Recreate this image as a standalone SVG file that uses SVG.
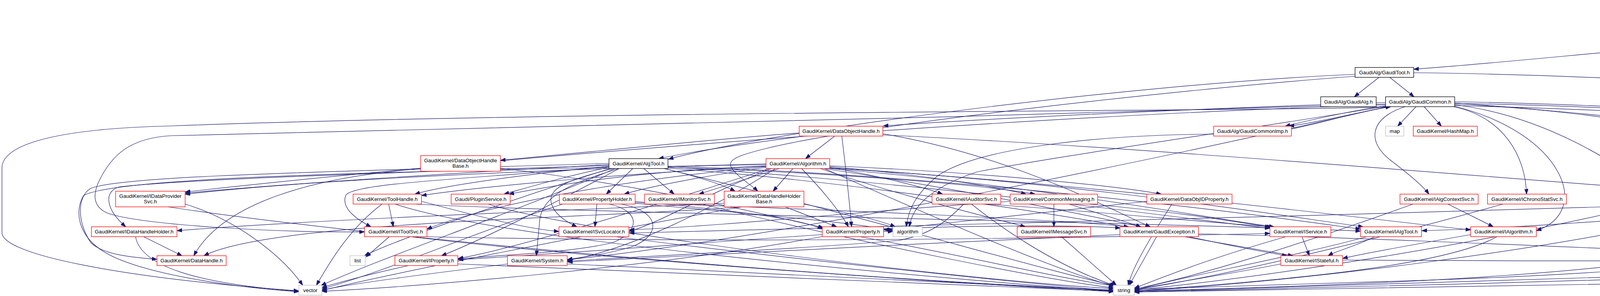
<svg xmlns="http://www.w3.org/2000/svg" width="5258" height="757" viewBox="0 0 5258 757">
<style>
rect{fill:#ffffff;stroke-width:1.3}
.r{stroke:#ff0000}.b{stroke:#000000}.g{stroke:#bfbfbf}
.top{fill:#bfbfbf;stroke:#000000}
text{font-family:"Liberation Sans",Arial,sans-serif;font-size:13.33px;text-anchor:middle;fill:#000000}
#edges path{fill:none;stroke:#191970;stroke-width:1.2;marker-end:url(#arr)}
</style>
<defs>
<marker id="arr" markerUnits="userSpaceOnUse" markerWidth="14" markerHeight="10" refX="13" refY="4.7" orient="auto"><path d="M0,0 L13,4.7 L0,9.4 Z" fill="#191970" stroke="#191970" stroke-width="1"/></marker>
</defs>
<rect x="0" y="0" width="5258" height="757" style="fill:#ffffff;stroke:none"/>
<g id="edges">
<path d="M4384,47 L4384,97.5"/>
<path d="M4340,114 C4150,128 3800,165 3619,177"/>
<path d="M4427,110 C4750,110 5133,130 5133,260 L5133,345 C5133,445 5010,480 4921,497"/>
<path d="M3530,198 L3467,247.5"/>
<path d="M3558,198 L3620,247.5"/>
<path d="M3619,186 C4000,190 4700,222 4950,258 C5060,276 5082,305 5082,345 L5082,580"/>
<path d="M3469,190 C2900,215 2000,330 1711,407"/>
<path d="M3469,195 C3000,230 2200,320 1960,380 C1900,395 1870,405 1870,420 C1870,440 1920,470 1940,489"/>
<path d="M3625,273 L3578,322.7"/>
<path d="M3646,273 L3690,322.7"/>
<path d="M3550,270 C3450,285 3350,308 3290,322.7"/>
<path d="M3552,273 C3460,292 3370,313 3300,322.7"/>
<path d="M3306,330 C3400,310 3480,285 3560,273"/>
<path d="M3547,262 C3000,280 2500,305 2261,322"/>
<path d="M3597,273 C3510,300 3495,360 3560,410 C3610,448 3645,478 3658,496.5"/>
<path d="M3722,273 C3850,300 3905,400 3908,496.5"/>
<path d="M3724,268 C3950,295 4150,420 4224,489"/>
<path d="M3724,266 C4100,285 4400,340 4508,398"/>
<path d="M3724,263 C4000,282 4300,318 4515,333"/>
<path d="M3724,260 C4300,272 4830,300 4940,405.7"/>
<path d="M3724,264 C4250,275 4740,300 4810,390 C4850,440 4950,470 4948,540 C4946,600 4930,630 4924,654"/>
<path d="M3724,270 C4300,285 4737,310 4737,400 L4737,595 C4737,645 4350,690 3700,715 C3300,730 3000,738 2904,740"/>
<path d="M3560,273 C3300,285 1500,282 440,322 C100,330 5,380 5,430 L5,595 C5,650 300,710 765,744"/>
<path d="M3547,266 C2500,300 1000,335 440,347 C330,352 285,400 255,460 C235,500 240,530 275,545 C360,575 700,595 933,593"/>
<path d="M3550,273 C3000,400 2000,610 1452,664"/>
<path d="M3724,272 C4000,340 4080,540 3933,590"/>
<path d="M3547,268 C2500,300 1200,410 474,491"/>
<path d="M3547,272 C3200,330 2700,400 2500,440 C2380,480 2335,530 2328,580"/>
<path d="M3107,343 C2800,345 2500,380 2400,450 C2340,500 2325,540 2320,580"/>
<path d="M2060,348 C1900,368 1760,390 1686,405.7"/>
<path d="M2137,348 L2062,405.7"/>
<path d="M2155,348 C2165,430 2175,520 2180,580"/>
<path d="M2046,340 C1800,358 1500,390 1281,410"/>
<path d="M2260,342 C2600,400 2850,540 2945,580"/>
<path d="M2260,345 C3000,380 4000,470 4413,497"/>
<path d="M1620,431 L1552,496.5"/>
<path d="M1648,431 L1726,496.5"/>
<path d="M1559,425 C1400,440 1150,470 1062,496.5"/>
<path d="M1559,421 C1200,440 700,472 474,494"/>
<path d="M1559,426 C1200,458 900,468 885,500 C872,535 920,565 950,580"/>
<path d="M1570,431 C1450,460 1400,482 1412,522 C1422,552 1455,570 1477,580"/>
<path d="M1585,431 C1450,470 1390,505 1382,560 L1373,654"/>
<path d="M1559,428 C1450,450 1350,480 1290,496.5"/>
<path d="M1585,431 C1420,520 1220,620 1130,654"/>
<path d="M1700,431 C1780,450 1850,472 1882,489"/>
<path d="M1710,428 C2100,440 2500,470 2650,496.5"/>
<path d="M1710,425 C2500,450 3300,560 3483,586"/>
<path d="M1710,430 C2400,480 3100,620 3310,654"/>
<path d="M1710,427 C2400,468 3100,568 3251,584"/>
<path d="M1559,423 C1000,442 480,458 305,478 C265,490 270,535 322,580"/>
<path d="M1559,418 C900,438 310,448 232,482 C198,502 196,565 232,620 C262,650 330,658 402,663"/>
<path d="M1575,431 C1300,550 1000,650 822,730"/>
<path d="M1700,431 C2200,550 2700,700 2855,730"/>
<path d="M1562,431 C1250,530 1000,620 933,654"/>
<path d="M2030,431 L1979,489"/>
<path d="M2052,431 C2100,480 2150,540 2172,580"/>
<path d="M1995,431 L1789,496.5"/>
<path d="M2124,428 C2250,450 2370,480 2413,496.5"/>
<path d="M2124,426 C2350,445 2550,478 2627,496.5"/>
<path d="M2124,424 C2500,440 2850,474 2973,496.5"/>
<path d="M1961,425 C1500,450 1200,482 1079,500"/>
<path d="M1961,428 C1800,450 1650,480 1598,496.5"/>
<path d="M1961,424 C1600,440 1400,478 1303,496.5"/>
<path d="M1961,419 C1200,438 700,470 474,497"/>
<path d="M1961,426 C1500,470 1200,540 1093,586"/>
<path d="M1975,431 C1800,500 1700,565 1611,592"/>
<path d="M1985,431 C1800,550 1600,640 1453,666"/>
<path d="M1970,431 C1600,550 1300,640 1173,661"/>
<path d="M2124,430 C2800,470 3500,560 3765,588"/>
<path d="M2124,431 C2700,480 3100,560 3262,580"/>
<path d="M2110,431 C2700,520 3100,625 3295,654"/>
<path d="M2100,431 C2300,500 2550,560 2625,580"/>
<path d="M2110,431 C2400,560 2700,690 2852,732"/>
<path d="M1961,421 C1000,438 300,452 214,500 C190,540 200,600 260,640 C350,700 600,735 765,746"/>
<path d="M2124,429 C2800,470 3300,555 3490,580"/>
<path d="M1077,432 C800,452 570,520 496,654"/>
<path d="M1281,430 C1700,480 2000,560 2108,582"/>
<path d="M2010,529 L2142,580"/>
<path d="M1854,520 C1400,540 800,562 453,590"/>
<path d="M1900,529 C1500,560 700,565 522,654"/>
<path d="M1900,529 C1500,600 1000,700 824,743"/>
<path d="M2058,522 C2150,540 2250,562 2292,580"/>
<path d="M367,605 L466,654"/>
<path d="M347,605 C360,680 500,725 765,745"/>
<path d="M430,529 C900,600 2000,705 2851,742"/>
<path d="M474,522 C600,560 720,650 775,729.5"/>
<path d="M995,522 L1007,580"/>
<path d="M978,522 C900,580 850,660 810,729.5"/>
<path d="M1012,522 C1300,620 2500,720 2852,745"/>
<path d="M1065,522 C1500,545 3000,570 3483,591"/>
<path d="M1079,515 C1250,560 1350,585 1431,592"/>
<path d="M1250,522 C1500,600 2500,720 2851,738"/>
<path d="M1528,522 L1523,580"/>
<path d="M1626,515 C1900,540 2050,560 2106,586"/>
<path d="M1626,518 C2200,540 2700,560 2890,580"/>
<path d="M1626,520 C1900,545 2150,565 2286,589"/>
<path d="M1440,522 C1200,600 1000,690 824,739"/>
<path d="M1560,522 C1640,540 1640,590 1570,620 C1450,650 1250,652 1172,663"/>
<path d="M1590,522 C1690,540 1695,600 1620,630 C1560,650 1480,658 1452,665"/>
<path d="M1797,522 C2200,620 2700,720 2851,736"/>
<path d="M2487,522 C2560,580 2700,680 2856,731"/>
<path d="M2467,522 C2420,570 2380,600 2300,615 C2000,640 1700,652 1453,668"/>
<path d="M2525,522 C2800,540 3100,570 3256,580"/>
<path d="M2698,522 L2698,580"/>
<path d="M2737,522 L2921,580"/>
<path d="M2788,522 C3000,540 3150,565 3251,581"/>
<path d="M2586,515 C2200,540 1900,575 1611,588"/>
<path d="M2936,515 C2700,540 2400,575 2262,588"/>
<path d="M3000,522 C2950,600 2900,680 2888,729.5"/>
<path d="M1573,605 C2000,660 2600,722 2851,744"/>
<path d="M997,605 L937,657"/>
<path d="M1048,605 C1500,660 2400,722 2851,746"/>
<path d="M1072,605 C2000,625 2900,605 3251,597"/>
<path d="M2105,600 C1800,620 1400,652 1173,664"/>
<path d="M2200,605 C2500,660 2750,720 2855,731"/>
<path d="M2262,592 L2286,592"/>
<path d="M2262,585 C2500,577 2750,575 2868,583"/>
<path d="M2105,605 C1700,680 1100,732 824,745"/>
<path d="M2717,605 L2858,729.5"/>
<path d="M2961,605 L2891,729.5"/>
<path d="M3068,598 C3600,610 4400,650 4824,665"/>
<path d="M2867,600 C2400,620 1800,652 1453,670"/>
<path d="M3333,605 L3352,654"/>
<path d="M3293,605 C3100,660 3000,700 2904,737"/>
<path d="M3520,605 C3470,630 3420,642 3400,654"/>
<path d="M3500,605 C3300,660 3000,712 2904,743"/>
<path d="M3765,600 C3650,620 3500,646 3437,661"/>
<path d="M3833,605 C3700,680 3300,716 2904,744"/>
<path d="M3707,522 L3823,580"/>
<path d="M3617,522 C3400,600 3100,700 2904,739"/>
<path d="M3847,522 C3500,620 3100,712 2904,741"/>
<path d="M4193,529 C3800,620 3300,702 2904,742"/>
<path d="M4555,529 L4873,654"/>
<path d="M4413,520 C3500,550 2200,580 1611,596"/>
<path d="M4440,529 C4000,640 3300,722 2904,745"/>
<path d="M4852,522 L4905,654"/>
<path d="M4773,515 C4400,540 4000,580 3640,590"/>
<path d="M4840,522 C4800,620 4700,680 4400,700 C3800,720 3200,736 2904,746"/>
<path d="M4560,438 C4650,480 4650,540 4550,600 C4300,700 3500,730 2904,744"/>
<path d="M4608,348 C4680,400 4685,450 4685,500 L4685,650 C4685,700 4500,715 4200,725 C3500,740 3100,745 2904,747"/>
<path d="M4960,431 L5075,580"/>
<path d="M5055,605 L4946,654"/>
<path d="M5093,605 L5142,654"/>
<path d="M5165,605 C5230,620 5255,650 5253,680 C5250,715 5180,730 5127,738"/>
<path d="M5077,605 C5050,650 5020,680 4950,690 C4500,705 3500,735 2904,747"/>
<path d="M4942,679.5 L5064,729.5"/>
<path d="M3279,675 C3100,710 2950,730 2904,742"/>
<path d="M1045,679.5 C950,700 870,722 824,735"/>
<path d="M1172,675 C1800,700 2500,735 2851,745"/>
<path d="M1452,675 C2000,700 2600,735 2851,743"/>
<path d="M1300,675 C1100,700 900,725 824,742"/>
<path d="M3437,665 C3900,668 4400,668 4824,667"/>
</g>
<g id="n_cpp"><rect class="top" x="4298" y="6" width="172" height="41"/><text x="4384" y="22.5">GaudiAlg/src/components</text><text x="4384" y="37">/ErrorTool.cpp</text></g>
<g id="n_errortool_h"><rect class="b" x="4340" y="97.5" width="87" height="25.3"/><text x="4383.5" y="114.5">ErrorTool.h</text></g>
<g id="n_gauditool"><rect class="b" x="3469" y="172.5" width="150" height="25.3"/><text x="3544" y="189.5">GaudiAlg/GaudiTool.h</text></g>
<g id="n_gaudialg"><rect class="b" x="3381" y="247.5" width="142" height="25.3"/><text x="3452" y="264.5">GaudiAlg/GaudiAlg.h</text></g>
<g id="n_gaudicommon"><rect class="b" x="3547" y="247.5" width="177" height="25.3"/><text x="3635.5" y="264.5">GaudiAlg/GaudiCommon.h</text></g>
<g id="n_dataobjecthandle"><rect class="r" x="2046" y="322.7" width="214" height="25.3"/><text x="2153" y="339.7">GaudiKernel/DataObjectHandle.h</text></g>
<g id="n_gaudicommonimp"><rect class="r" x="3107" y="322.7" width="199" height="25.3"/><text x="3206.5" y="339.7">GaudiAlg/GaudiCommonImp.h</text></g>
<g id="n_map"><rect class="g" x="3547" y="322.7" width="47" height="25.3"/><text x="3570.5" y="339.7">map</text></g>
<g id="n_hashmap"><rect class="r" x="3618" y="322.7" width="164" height="25.3"/><text x="3700" y="339.7">GaudiKernel/HashMap.h</text></g>
<g id="n_statentity"><rect class="r" x="4515" y="322.7" width="167" height="25.3"/><text x="4598.5" y="339.7">GaudiKernel/StatEntity.h</text></g>
<g id="n_dataobjecthandlebase"><rect class="r" x="1077" y="398" width="204" height="40"/><text x="1179" y="414.5">GaudiKernel/DataObjectHandle</text><text x="1179" y="429">Base.h</text></g>
<g id="n_algtool"><rect class="b" x="1559" y="405.7" width="151" height="25.3"/><text x="1634.5" y="422.7">GaudiKernel/AlgTool.h</text></g>
<g id="n_algorithm_h"><rect class="r" x="1961" y="405.7" width="163" height="25.3"/><text x="2042.5" y="422.7">GaudiKernel/Algorithm.h</text></g>
<g id="n_iupdatemanagersvc"><rect class="r" x="4434" y="398" width="193" height="40"/><text x="4530.5" y="414.5">GaudiKernel/IUpdateManager</text><text x="4530.5" y="429">Svc.h</text></g>
<g id="n_smartdataptr"><rect class="r" x="4856" y="405.7" width="189" height="25.3"/><text x="4950.5" y="422.7">GaudiKernel/SmartDataPtr.h</text></g>
<g id="n_idataprovidersvc"><rect class="r" x="296" y="489" width="178" height="40"/><text x="385" y="505.5">GaudiKernel/IDataProvider</text><text x="385" y="520">Svc.h</text></g>
<g id="n_toolhandle"><rect class="r" x="904" y="496.5" width="175" height="25.3"/><text x="991.5" y="513.5">GaudiKernel/ToolHandle.h</text></g>
<g id="n_pluginservice"><rect class="r" x="1155" y="496.5" width="151" height="25.3"/><text x="1230.5" y="513.5">Gaudi/PluginService.h</text></g>
<g id="n_propertyholder"><rect class="r" x="1432" y="496.5" width="194" height="25.3"/><text x="1529" y="513.5">GaudiKernel/PropertyHolder.h</text></g>
<g id="n_imonitorsvc"><rect class="r" x="1650" y="496.5" width="179" height="25.3"/><text x="1739.5" y="513.5">GaudiKernel/IMonitorSvc.h</text></g>
<g id="n_datahandleholderbase"><rect class="r" x="1854" y="489" width="204" height="40"/><text x="1956" y="505.5">GaudiKernel/DataHandleHolder</text><text x="1956" y="520">Base.h</text></g>
<g id="n_iauditorsvc"><rect class="r" x="2386" y="496.5" width="176" height="25.3"/><text x="2474" y="513.5">GaudiKernel/IAuditorSvc.h</text></g>
<g id="n_commonmessaging"><rect class="r" x="2586" y="496.5" width="224" height="25.3"/><text x="2698" y="513.5">GaudiKernel/CommonMessaging.h</text></g>
<g id="n_dataobjidproperty"><rect class="r" x="2936" y="496.5" width="218" height="25.3"/><text x="3045" y="513.5">GaudiKernel/DataObjIDProperty.h</text></g>
<g id="n_ialgcontextsvc"><rect class="r" x="3584" y="496.5" width="200" height="25.3"/><text x="3684" y="513.5">GaudiKernel/IAlgContextSvc.h</text></g>
<g id="n_ichronostatsvc"><rect class="r" x="3808" y="496.5" width="202" height="25.3"/><text x="3909" y="513.5">GaudiKernel/IChronoStatSvc.h</text></g>
<g id="n_icountersummarysvc"><rect class="b" x="4136" y="489" width="203" height="40"/><text x="4237.5" y="505.5">GaudiKernel/ICounterSummary</text><text x="4237.5" y="520">Svc.h</text></g>
<g id="n_servicelocatorhelper"><rect class="r" x="4413" y="489" width="184" height="40"/><text x="4505" y="505.5">GaudiKernel/ServiceLocator</text><text x="4505" y="520">Helper.h</text></g>
<g id="n_ierrortool"><rect class="b" x="4773" y="496.5" width="147" height="25.3"/><text x="4846.5" y="513.5">GaudiAlg/IErrorTool.h</text></g>
<g id="n_idatahandleholder"><rect class="r" x="234" y="580" width="219" height="25.3"/><text x="343.5" y="597">GaudiKernel/IDataHandleHolder.h</text></g>
<g id="n_itoolsvc"><rect class="r" x="933" y="580" width="160" height="25.3"/><text x="1013" y="597">GaudiKernel/IToolSvc.h</text></g>
<g id="n_isvclocator"><rect class="r" x="1431" y="580" width="179" height="25.3"/><text x="1520.5" y="597">GaudiKernel/ISvcLocator.h</text></g>
<g id="n_property"><rect class="r" x="2105" y="580" width="157" height="25.3"/><text x="2183.5" y="597">GaudiKernel/Property.h</text></g>
<g id="n_algorithm_std"><rect class="g" x="2286" y="580" width="75" height="25.3"/><text x="2323.5" y="597">algorithm</text></g>
<g id="n_imessagesvc"><rect class="r" x="2604" y="580" width="188" height="25.3"/><text x="2698" y="597">GaudiKernel/IMessageSvc.h</text></g>
<g id="n_gaudiexception"><rect class="r" x="2867" y="580" width="201" height="25.3"/><text x="2967.5" y="597">GaudiKernel/GaudiException.h</text></g>
<g id="n_iservice"><rect class="r" x="3251" y="580" width="156" height="25.3"/><text x="3329" y="597">GaudiKernel/IService.h</text></g>
<g id="n_ialgtool"><rect class="r" x="3483" y="580" width="156" height="25.3"/><text x="3561" y="597">GaudiKernel/IAlgTool.h</text></g>
<g id="n_ialgorithm"><rect class="r" x="3765" y="580" width="168" height="25.3"/><text x="3849" y="597">GaudiKernel/IAlgorithm.h</text></g>
<g id="n_dataobject"><rect class="b" x="4995" y="580" width="175" height="25.3"/><text x="5082.5" y="597">GaudiKernel/DataObject.h</text></g>
<g id="n_datahandle"><rect class="r" x="402" y="654" width="177" height="25.3"/><text x="490.5" y="671">GaudiKernel/DataHandle.h</text></g>
<g id="n_list"><rect class="g" x="896" y="654" width="39" height="25.3"/><text x="915.5" y="671">list</text></g>
<g id="n_iproperty"><rect class="r" x="1011" y="654" width="161" height="25.3"/><text x="1091.5" y="671">GaudiKernel/IProperty.h</text></g>
<g id="n_system"><rect class="r" x="1299" y="654" width="153" height="25.3"/><text x="1375.5" y="671">GaudiKernel/System.h</text></g>
<g id="n_istateful"><rect class="r" x="3279" y="654" width="158" height="25.3"/><text x="3358" y="671">GaudiKernel/IStateful.h</text></g>
<g id="n_statuscode"><rect class="r" x="4824" y="654" width="178" height="25.3"/><text x="4913" y="671">GaudiKernel/StatusCode.h</text></g>
<g id="n_classid"><rect class="r" x="5077" y="654" width="157" height="25.3"/><text x="5155.5" y="671">GaudiKernel/ClassID.h</text></g>
<g id="n_vector"><rect class="g" x="765" y="729.5" width="59" height="25.3"/><text x="794.5" y="746.5">vector</text></g>
<g id="n_string"><rect class="g" x="2850" y="729.5" width="54" height="25.3"/><text x="2877" y="746.5">string</text></g>
<g id="n_ostream"><rect class="g" x="5057" y="729.5" width="69" height="25.3"/><text x="5091.5" y="746.5">ostream</text></g>
</svg>
